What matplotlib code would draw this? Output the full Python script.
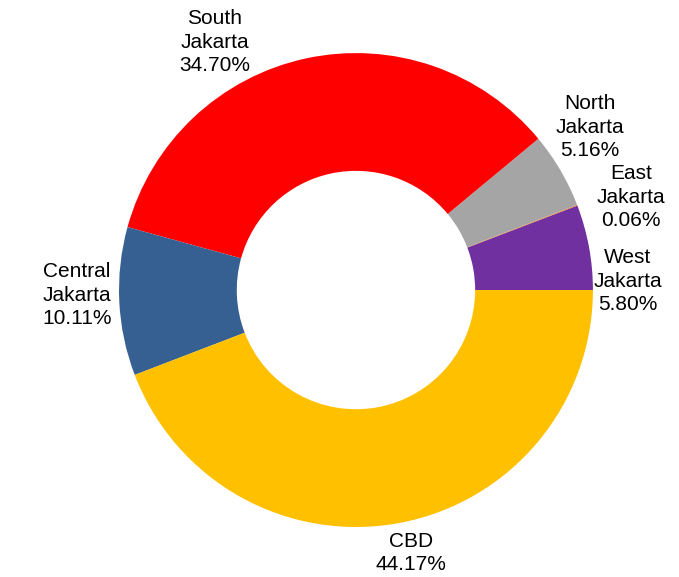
import matplotlib
matplotlib.use("Agg")
import matplotlib.pyplot as plt

plt.rcParams["font.family"] = ["Liberation Sans", "DejaVu Sans"]

# data, counterclockwise from 3 o'clock
regions = ["West\nJakarta", "East\nJakarta", "North\nJakarta", "South\nJakarta",
           "Central\nJakarta", "CBD"]
shares = [5.80, 0.06, 5.16, 34.70, 10.11, 44.17]
colors = ["#7030A0", "#ED7D31", "#A5A5A5", "#FF0000", "#376092", "#FFC000"]

# label centres, in units of the outer radius
label_xy = [(1.148, 0.038), (1.160, 0.392), (0.987, 0.688), (-0.595, 1.046),
            (-1.177, -0.021), (0.232, -1.110)]

fig = plt.figure(figsize=(6.79, 5.77), dpi=100)
ax = fig.add_axes([0, 0, 1, 1])
ax.pie(shares, colors=colors, startangle=0, counterclock=True, radius=1.0,
       wedgeprops=dict(width=0.497, linewidth=0))
for name, val, (x, y) in zip(regions, shares, label_xy):
    ax.text(x, y, f"{name}\n{val:.2f}%", ha="center", va="center",
            fontsize=15, linespacing=1.3, color="black")
ax.set_xlim(-1.502, 1.363)
ax.set_ylim(-1.211, 1.224)
ax.set_aspect("equal")
ax.axis("off")
fig.savefig("out.png", dpi=100)
